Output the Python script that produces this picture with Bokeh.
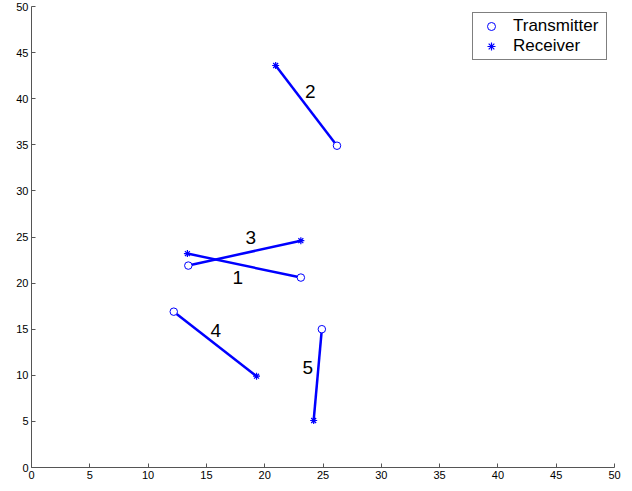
from bokeh.plotting import figure
from bokeh.models import Legend, LegendItem, Range1d, FixedTicker
from bokeh.core.properties import value
from bokeh.embed import file_html
from bokeh.resources import INLINE

# link data: transmitter and receiver positions
links = ["1", "2", "3", "4", "5"]
tx_x = [23.1, 26.2, 13.45, 12.2, 24.9]
tx_y = [20.6, 34.9, 21.9, 16.9, 15.0]
rx_x = [13.37, 20.94, 23.1, 19.3, 24.2]
rx_y = [23.2, 43.6, 24.6, 9.9, 5.1]
label_x = [17.7, 23.9, 18.8, 15.8, 23.7]
label_y = [20.65, 40.8, 25.0, 14.9, 10.8]
ticks = [0, 5, 10, 15, 20, 25, 30, 35, 40, 45, 50]

FONT = "Liberation Sans"
BLUE = "#0000ff"

p = figure(width=624, height=483, output_backend="svg", toolbar_location=None,
           x_range=Range1d(0, 50), y_range=Range1d(0, 50),
           min_border_left=31, min_border_right=10, min_border_top=6, min_border_bottom=16)
p.outline_line_color = None
p.grid.visible = False
p.background_fill_color = "white"
p.border_fill_color = "white"

for ax in (p.xaxis[0], p.yaxis[0]):
    ax.ticker = FixedTicker(ticks=ticks)
    ax.major_tick_in = 4
    ax.major_tick_out = 0
    ax.minor_tick_in = 0
    ax.minor_tick_out = 0
    ax.axis_line_color = "#555555"
    ax.major_tick_line_color = "#555555"
    ax.major_label_text_font = FONT
    ax.major_label_text_font_size = "11px"
    ax.major_label_text_color = "black"
    ax.major_label_standoff = 3

for i in range(len(links)):
    p.line([tx_x[i], rx_x[i]], [tx_y[i], rx_y[i]], line_color=BLUE, line_width=2.5)

tx = p.scatter(tx_x, tx_y, marker="circle", size=7.5, fill_color="white",
               line_color=BLUE, line_width=1)
rx = p.scatter(rx_x, rx_y, marker="asterisk", size=7, line_color=BLUE, line_width=1.2)

p.text(label_x, label_y, text=links, text_font=value(FONT), text_font_size="19px",
       text_align="center", text_baseline="middle", text_color="black")

legend = Legend(items=[LegendItem(label="Transmitter", renderers=[tx]),
                       LegendItem(label="Receiver", renderers=[rx])],
                location=(441, 407), orientation="vertical")
legend.label_text_font = FONT
legend.label_text_font_size = "17px"
legend.label_text_color = "black"
legend.padding = 3
legend.spacing = 0
legend.margin = 0
legend.label_height = 20
legend.glyph_height = 20
legend.glyph_width = 30
legend.label_width = 90
legend.label_standoff = 7
legend.border_line_color = "black"
legend.border_line_width = 1
legend.background_fill_alpha = 1
p.add_layout(legend, "center")

open("out.html", "w").write(file_html(p, INLINE))
